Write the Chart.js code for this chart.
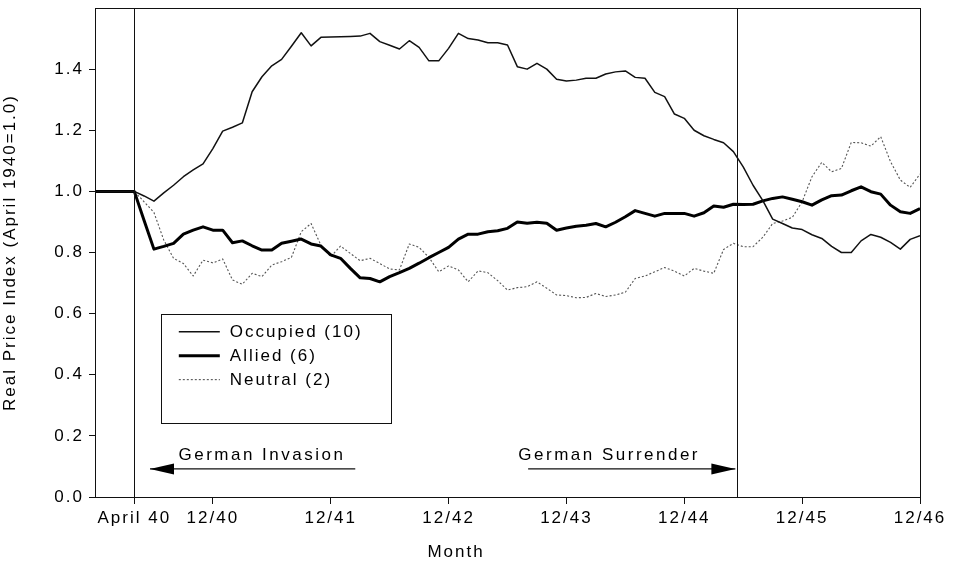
<!DOCTYPE html>
<html>
<head>
<meta charset="utf-8">
<script src="https://cdn.jsdelivr.net/npm/chart.js@4.4.1/dist/chart.umd.min.js"></script>
<style>
  html, body { margin: 0; padding: 0; background: #fff; }
  #wrap { position: relative; width: 958px; height: 569px; }
</style>
</head>
<body>
<div id="wrap"><canvas id="chart" width="958" height="569"></canvas></div>
<script>
// month index 0 = Dec 1939 ... 84 = Dec 1946
const occupied = [
  1.00, 1.00, 1.00, 1.00, 1.00, 0.985, 0.968, 0.995, 1.02, 1.048, 1.07, 1.09, 1.14,
  1.197, 1.21, 1.224, 1.326, 1.375, 1.411, 1.432, 1.475, 1.519, 1.476, 1.504, 1.505,
  1.506, 1.507, 1.508, 1.517, 1.49, 1.478, 1.466, 1.493, 1.471, 1.427, 1.427, 1.468,
  1.517, 1.50, 1.495, 1.486, 1.486, 1.479, 1.408, 1.40, 1.419, 1.40, 1.367, 1.361,
  1.364, 1.37, 1.37, 1.384, 1.391, 1.394, 1.373, 1.37, 1.324, 1.31, 1.253, 1.239,
  1.20, 1.182, 1.17, 1.159, 1.13, 1.08, 1.02, 0.97, 0.909, 0.895, 0.88, 0.875,
  0.858, 0.846, 0.82, 0.80, 0.80, 0.838, 0.859, 0.85, 0.833, 0.811, 0.843, 0.855
];
const allied = [
  1.00, 1.00, 1.00, 1.00, 1.00, 0.905, 0.811, 0.82, 0.83, 0.86, 0.873, 0.884, 0.873,
  0.873, 0.832, 0.838, 0.822, 0.808, 0.808, 0.83, 0.837, 0.844, 0.828, 0.821, 0.792,
  0.781, 0.748, 0.717, 0.715, 0.704, 0.721, 0.734, 0.748, 0.765, 0.783, 0.80, 0.817,
  0.844, 0.86, 0.86, 0.868, 0.871, 0.879, 0.90, 0.896, 0.899, 0.896, 0.873, 0.88,
  0.886, 0.889, 0.895, 0.884, 0.899, 0.917, 0.937, 0.928, 0.919, 0.928, 0.928, 0.928,
  0.919, 0.93, 0.952, 0.948, 0.958, 0.957, 0.958, 0.969, 0.977, 0.982, 0.974, 0.966,
  0.955, 0.972, 0.986, 0.988, 1.002, 1.015, 0.999, 0.991, 0.955, 0.933, 0.928, 0.944
];
const neutral = [
  1.00, 1.00, 1.00, 1.00, 1.00, 0.966, 0.931, 0.841, 0.781, 0.764, 0.723, 0.775, 0.766,
  0.779, 0.71, 0.696, 0.732, 0.721, 0.759, 0.77, 0.784, 0.868, 0.895, 0.824, 0.786,
  0.821, 0.797, 0.773, 0.781, 0.764, 0.746, 0.743, 0.828, 0.817, 0.784, 0.737, 0.756,
  0.743, 0.704, 0.74, 0.734, 0.708, 0.677, 0.685, 0.688, 0.704, 0.683, 0.661, 0.659,
  0.652, 0.653, 0.666, 0.656, 0.661, 0.67, 0.715, 0.723, 0.737, 0.751, 0.739, 0.723,
  0.748, 0.739, 0.732, 0.81, 0.83, 0.819, 0.819, 0.85, 0.895, 0.903, 0.915, 0.966,
  1.048, 1.095, 1.064, 1.075, 1.16, 1.159, 1.148, 1.179, 1.097, 1.037, 1.013, 1.057
];
const seriesNames = ['Occupied (10)', 'Allied (6)', 'Neutral (2)'];
const tickMonths = [4, 12, 24, 36, 48, 60, 72, 84];
const tickText = ['April 40', '12/40', '12/41', '12/42', '12/43', '12/44', '12/45', '12/46'];
const invasionMonth = 4;
const surrenderMonth = 65.4;

const FONT = "'Liberation Sans', Arial, sans-serif";
const SPACING = '2px';
Chart.defaults.font.family = FONT;
Chart.defaults.font.size = 17;
Chart.defaults.color = '#000';

const toPoints = arr => arr.map((v, i) => ({ x: i, y: v }));

const spacingPlugin = {
  id: 'spacing',
  beforeUpdate(chart) { chart.ctx.letterSpacing = SPACING; },
  beforeDraw(chart) { chart.ctx.letterSpacing = SPACING; }
};

const framePlugin = {
  id: 'frame',
  afterDatasetsDraw(chart) {
    const { ctx, chartArea: a, scales: { x, y } } = chart;
    ctx.save();
    ctx.strokeStyle = '#111';
    ctx.lineWidth = 1;
    ctx.strokeRect(a.left + 0.5, a.top + 0.5, a.right - a.left, a.bottom - a.top);
    [invasionMonth, surrenderMonth].forEach(m => {
      const px = Math.round(x.getPixelForValue(m)) + 0.5;
      ctx.beginPath();
      ctx.moveTo(px, a.top);
      ctx.lineTo(px, a.bottom);
      ctx.stroke();
    });

    // annotations
    ctx.letterSpacing = '2.5px';
    ctx.font = '17px ' + FONT;
    ctx.fillStyle = '#000';
    ctx.textBaseline = 'alphabetic';
    ctx.textAlign = 'left';
    const ay = y.getPixelForValue(0.092);
    const ty = y.getPixelForValue(0.12);
    ctx.fillText('German Invasion', x.getPixelForValue(8.5), ty);
    ctx.fillText('German Surrender', x.getPixelForValue(43.1), ty);
    const arrow = (x0, x1) => {
      ctx.lineWidth = 1.3;
      ctx.beginPath();
      ctx.moveTo(x0, ay);
      ctx.lineTo(x1, ay);
      ctx.stroke();
      const dir = Math.sign(x1 - x0);
      ctx.beginPath();
      ctx.moveTo(x1, ay);
      ctx.lineTo(x1 - dir * 24, ay - 5.5);
      ctx.lineTo(x1 - dir * 24, ay + 5.5);
      ctx.closePath();
      ctx.fill();
    };
    arrow(x.getPixelForValue(26.5), x.getPixelForValue(5.6));
    arrow(x.getPixelForValue(44.1), x.getPixelForValue(65.2));

    // x axis title, set left of centre as in the source
    ctx.letterSpacing = SPACING;
    ctx.textAlign = 'center';
    ctx.textBaseline = 'middle';
    ctx.fillText('Month', 456, 552);

    // legend box
    const lx = x.getPixelForValue(6.7), lyTop = y.getPixelForValue(0.6);
    const lyBot = y.getPixelForValue(0.243);
    ctx.lineWidth = 1;
    ctx.strokeRect(Math.round(lx) + 0.5, Math.round(lyTop) + 0.5, 230, Math.round(lyBot - lyTop));
    ctx.textAlign = 'left';
    chart.data.datasets.forEach((ds, i) => {
      const rowY = lyTop + 18 + i * 24;
      ctx.save();
      ctx.strokeStyle = ds.borderColor;
      ctx.lineWidth = ds.borderWidth;
      ctx.setLineDash(ds.borderDash || []);
      ctx.beginPath();
      ctx.moveTo(lx + 18, rowY);
      ctx.lineTo(lx + 59, rowY);
      ctx.stroke();
      ctx.restore();
      ctx.fillText(ds.label, lx + 69, rowY + 1);
    });
    ctx.restore();
  }
};

new Chart(document.getElementById('chart'), {
  type: 'line',
  data: {
    datasets: [
      { label: seriesNames[0], data: toPoints(occupied), borderColor: '#111', borderWidth: 1.5 },
      { label: seriesNames[1], data: toPoints(allied), borderColor: '#000', borderWidth: 3 },
      { label: seriesNames[2], data: toPoints(neutral), borderColor: '#555', borderWidth: 1.1, borderDash: [2, 2] }
    ]
  },
  options: {
    responsive: false,
    animation: false,
    events: [],
    layout: { padding: { top: 8, right: 38, left: 0, bottom: 0 } },
    elements: { point: { radius: 0 }, line: { tension: 0, borderJoinStyle: 'round' } },
    plugins: { legend: { display: false }, tooltip: { enabled: false } },
    scales: {
      x: {
        type: 'linear',
        min: 0,
        max: 84,
        afterBuildTicks: s => { s.ticks = tickMonths.map(v => ({ value: v })); },
        afterFit: s => { s.height = 72; s.paddingLeft = 0; s.paddingRight = 0; },
        ticks: {
          autoSkip: false,
          maxRotation: 0,
          padding: 4,
          callback: v => tickText[tickMonths.indexOf(v)]
        },
        grid: { drawOnChartArea: false, color: '#111', tickLength: 7 },
        border: { color: '#111' }
      },
      y: {
        min: 0,
        max: 1.6,
        afterFit: s => { s.width = 95; s.paddingTop = 0; s.paddingBottom = 0; },
        ticks: {
          stepSize: 0.2,
          padding: 5,
          callback: v => (v > 1.5 ? '' : v.toFixed(1))
        },
        grid: { drawOnChartArea: false, color: ctx => (ctx.tick && ctx.tick.value > 1.5 ? 'rgba(0,0,0,0)' : '#111'), tickLength: 6 },
        border: { color: '#111' },
        title: { display: true, text: 'Real Price Index (April 1940=1.0)', font: { size: 17 }, padding: { top: 0, bottom: 4 } }
      }
    }
  },
  plugins: [spacingPlugin, framePlugin]
});
</script>
</body>
</html>
